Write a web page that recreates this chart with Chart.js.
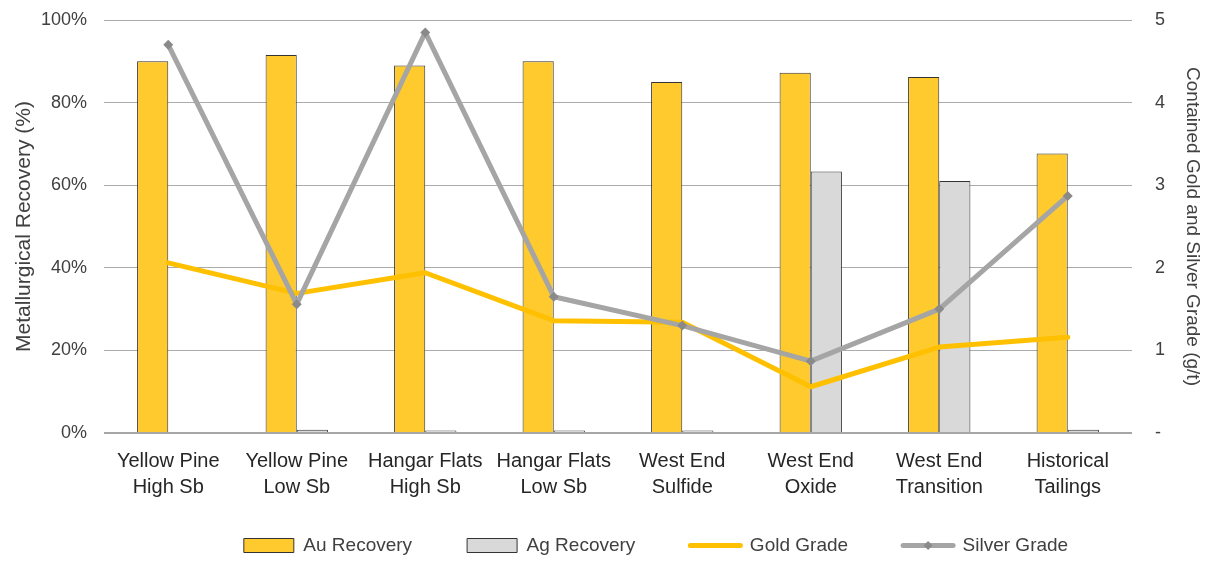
<!DOCTYPE html>
<html lang="en">
<head>
<meta charset="UTF-8">
<title>Metallurgical Recovery and Contained Grade</title>
<script src="https://cdn.jsdelivr.net/npm/chart.js@4.4.1/dist/chart.umd.min.js"></script>
<style>
    html, body { margin: 0; padding: 0; background: #ffffff; }
    .chartBox { width: 1210px; height: 565px; }
</style>
</head>
<body>

<div class="chartBox">
    <canvas id="recoveryChart"></canvas>
</div>

<script>
// sample groups (two-line axis labels)
const categories = [
    ['Yellow Pine', 'High Sb'],
    ['Yellow Pine', 'Low Sb'],
    ['Hangar Flats', 'High Sb'],
    ['Hangar Flats', 'Low Sb'],
    ['West End', 'Sulfide'],
    ['West End', 'Oxide'],
    ['West End', 'Transition'],
    ['Historical', 'Tailings']
];

// recovery, %
const auRecovery = [90, 91.5, 89, 90, 85, 87.2, 86.2, 67.7];
const agRecovery = [0, 0.8, 0.6, 0.6, 0.6, 63.3, 61, 0.8];

// contained grade, g/t
const goldGrade = [2.06, 1.69, 1.94, 1.36, 1.34, 0.56, 1.04, 1.16];
const silverGrade = [4.70, 1.56, 4.85, 1.65, 1.30, 0.87, 1.50, 2.87];

// axis ranges
const recoveryTicks = [0, 20, 40, 60, 80, 100];
const gradeTicks = [0, 1, 2, 3, 4, 5];

const FONT = "'Liberation Sans', Arial, sans-serif";
const TEXT = '#404040';

const layoutTweaks = {
    id: 'layoutTweaks',
    afterLayout(chart) {
        // let the two-line category labels run below the x box (over the legend's empty top)
        chart.scales.x.bottom = chart.height;
        // legend sits a little right of centre
        chart.legend.left += 102;
    },
    afterDraw(chart) {
        // little diamond on the Silver Grade legend line
        const legend = chart.legend;
        const box = legend && legend.legendHitBoxes[3];
        if (!box) return;
        const ctx = chart.ctx;
        const w = legend.options.labels.pointStyleWidth;
        const cx = box.left + w / 2;
        const cy = box.top + legend.options.labels.font.size / 2;
        const r = 4.5;
        ctx.save();
        ctx.fillStyle = '#8a8a8a';
        ctx.beginPath();
        ctx.moveTo(cx, cy - r);
        ctx.lineTo(cx + r, cy);
        ctx.lineTo(cx, cy + r);
        ctx.lineTo(cx - r, cy);
        ctx.closePath();
        ctx.fill();
        ctx.restore();
    }
};

const ctx = document.getElementById('recoveryChart');

new Chart(ctx, {
    type: 'bar',
    data: {
        labels: categories,
        datasets: [
            {
                label: 'Au Recovery',
                data: auRecovery,
                yAxisID: 'y',
                backgroundColor: '#ffca2e',
                borderColor: '#333333',
                borderWidth: 1,
                barPercentage: 1,
                categoryPercentage: 0.485,
                order: 2
            },
            {
                label: 'Ag Recovery',
                data: agRecovery,
                yAxisID: 'y',
                backgroundColor: '#d9d9d9',
                borderColor: '#333333',
                borderWidth: 1,
                barPercentage: 1,
                categoryPercentage: 0.485,
                order: 3
            },
            {
                type: 'line',
                label: 'Gold Grade',
                data: goldGrade,
                yAxisID: 'y1',
                borderColor: '#ffc000',
                backgroundColor: '#ffc000',
                borderWidth: 5,
                borderCapStyle: 'round',
                borderJoinStyle: 'round',
                pointRadius: 0,
                tension: 0,
                order: 1
            },
            {
                type: 'line',
                label: 'Silver Grade',
                data: silverGrade,
                yAxisID: 'y1',
                borderColor: '#a5a5a5',
                backgroundColor: '#8a8a8a',
                borderWidth: 5,
                borderCapStyle: 'round',
                borderJoinStyle: 'round',
                pointStyle: 'rectRot',
                pointRadius: 5,
                pointBorderWidth: 0,
                pointBackgroundColor: '#8a8a8a',
                tension: 0,
                order: 0
            }
        ]
    },
    options: {
        responsive: true,
        maintainAspectRatio: false,
        animation: false,
        layout: { padding: { top: 20, left: 0, right: 0, bottom: 0 } },
        plugins: {
            tooltip: { enabled: false },
            legend: {
                position: 'bottom',
                labels: {
                    sort: (a, b) => a.datasetIndex - b.datasetIndex,
                    usePointStyle: true,
                    pointStyleWidth: 50,
                    boxHeight: 14,
                    padding: 55,
                    color: TEXT,
                    font: { family: FONT, size: 19, lineHeight: 1.0 },
                    generateLabels(chart) {
                        const items = Chart.defaults.plugins.legend.labels.generateLabels(chart);
                        items.forEach(it => {
                            const ds = chart.data.datasets[it.datasetIndex];
                            if (ds.type === 'line') {
                                it.pointStyle = 'line';
                                it.lineWidth = 5;
                                it.strokeStyle = ds.borderColor;
                                it.lineCap = 'round';
                            } else {
                                it.pointStyle = 'rect';
                                it.lineWidth = 1;
                            }
                        });
                        return items;
                    }
                }
            }
        },
        scales: {
            x: {
                offset: true,
                grid: { display: false, drawTicks: false },
                border: { display: false },
                ticks: {
                    color: '#262626',
                    padding: 15,
                    maxRotation: 0,
                    autoSkip: false,
                    font: { family: FONT, size: 20, lineHeight: 1.3 }
                },
                afterFit(scale) { scale.height = 48; }
            },
            y: {
                position: 'left',
                z: 1,
                min: recoveryTicks[0],
                max: recoveryTicks[recoveryTicks.length - 1],
                afterBuildTicks(scale) { scale.ticks = recoveryTicks.map(v => ({ value: v })); },
                grid: {
                    color: c => c.tick && c.tick.value === 0 ? '#a6a6a6' : 'rgba(0,0,0,0.33)',
                    lineWidth: c => c.tick && c.tick.value === 0 ? 2 : 1,
                    drawTicks: true,
                    tickLength: 14,
                    tickColor: 'rgba(0,0,0,0)'
                },
                border: { display: false },
                ticks: {
                    color: TEXT,
                    padding: 3,
                    font: { family: FONT, size: 18 },
                    callback: v => v + '%'
                },
                title: {
                    display: true,
                    text: 'Metallurgical Recovery (%)',
                    color: TEXT,
                    padding: { top: 12, bottom: 0 },
                    font: { family: FONT, size: 21 }
                },
                afterFit(scale) { scale.width = 104; }
            },
            y1: {
                position: 'right',
                min: gradeTicks[0],
                max: gradeTicks[gradeTicks.length - 1],
                afterBuildTicks(scale) { scale.ticks = gradeTicks.map(v => ({ value: v })); },
                grid: { display: false, drawTicks: true, tickLength: 20 },
                border: { display: false },
                ticks: {
                    color: TEXT,
                    padding: 3,
                    font: { family: FONT, size: 18 },
                    callback: v => v === 0 ? '-' : v
                },
                title: {
                    display: true,
                    text: 'Contained Gold and Silver Grade (g/t)',
                    color: TEXT,
                    padding: { top: 6, bottom: 0 },
                    font: { family: FONT, size: 19 }
                },
                afterFit(scale) { scale.width = 78; }
            }
        }
    },
    plugins: [layoutTweaks]
});
</script>

</body>
</html>
